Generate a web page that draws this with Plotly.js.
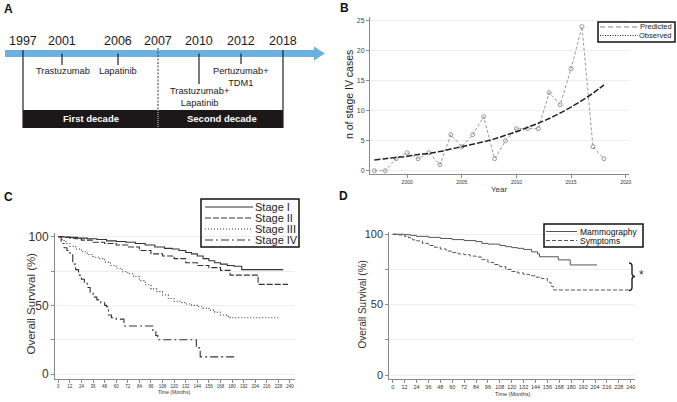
<!DOCTYPE html>
<html><head><meta charset="utf-8">
<script src="https://cdn.plot.ly/plotly-3.0.1.min.js"></script>
<style>html,body{margin:0;padding:0;background:#fff}#chart{width:677px;height:402px}</style>
</head><body><div id="chart"></div>
<script>
// ---------------- DATA ----------------
// Panel A – timeline
const timelineYears = ['1997', '2001', '2006', '2007', '2010', '2012', '2018'];
const therapyYears = ['2001', '2006', '2010', '2012'];
const therapyNames = ['Trastuzumab', 'Lapatinib', 'Trastuzumab+<br>Lapatinib', 'Pertuzumab+<br>TDM1'];
const decadeLabels = ['First decade', 'Second decade'];

// Panel B – stage IV cases per year
const years = [1997, 1998, 1999, 2000, 2001, 2002, 2003, 2004, 2005, 2006, 2007, 2008, 2009, 2010, 2011, 2012, 2013, 2014, 2015, 2016, 2017, 2018];
const observedCases = [0, 0, 2, 3, 2, 3, 1, 6, 4, 6, 9, 2, 5, 7, 7, 7, 13, 11, 17, 24, 4, 2];
const predictedCases = [1.8, 2.0, 2.2, 2.4, 2.7, 2.9, 3.2, 3.6, 4.0, 4.4, 4.8, 5.3, 5.9, 6.5, 7.2, 7.9, 8.7, 9.6, 10.6, 11.7, 12.9, 14.3];
const legendB = ['Predicted', 'Observed'];

// Panel C – overall survival by stage (Kaplan–Meier, months / %)
const stageNames = ['Stage I', 'Stage II', 'Stage III', 'Stage IV'];
const stage1Time = [0, 6, 12, 20, 30, 40, 50, 60, 70, 80, 90, 100, 110, 118, 125, 132, 138, 144, 150, 156, 162, 168, 175, 182, 190, 233];
const stage1Surv = [100, 99.8, 99.5, 99, 98.5, 98, 97, 96.5, 96, 95, 94, 92.5, 91.5, 91, 90, 88.5, 87.5, 86, 84, 82.5, 81, 80, 79, 78.5, 76, 76];
const stage2Time = [0, 6, 12, 18, 24, 36, 48, 60, 72, 84, 96, 108, 120, 132, 144, 156, 168, 178, 207, 238];
const stage2Surv = [100, 99.5, 99, 98.5, 97.5, 96, 95, 94, 92.5, 90, 87.5, 86, 84, 81, 79, 77.5, 75.5, 72, 65.3, 65.3];
const stage3Time = [0, 3, 6, 9, 12, 18, 24, 30, 36, 42, 48, 54, 60, 66, 72, 78, 84, 90, 96, 102, 108, 114, 120, 126, 132, 138, 144, 150, 156, 162, 168, 174, 178, 230];
const stage3Surv = [100, 98, 96.5, 95, 93, 91, 89, 87, 85, 84, 81.5, 79, 77, 74.5, 73, 71, 68, 65, 62, 60, 57.5, 55, 53, 52, 51, 50, 49, 48, 46.5, 45, 43, 42, 41, 41];
const stage4Time = [0, 3, 6, 9, 12, 15, 18, 21, 24, 27, 30, 33, 36, 40, 44, 48, 50, 52, 55, 60, 68, 98, 101, 103, 143, 145, 147, 183];
const stage4Surv = [100, 95, 92, 90, 88, 80, 76, 72, 69, 66, 63, 59, 56, 54, 52, 50, 49, 43, 41, 40, 35, 31, 28, 25, 19, 19, 12.5, 12.5];

// Panel D – overall survival by detection mode
const detectNames = ['Mammography', 'Symptoms'];
const mammoTime = [0, 6, 12, 18, 24, 36, 48, 60, 72, 84, 90, 96, 108, 114, 120, 126, 132, 140, 146, 148, 167, 179, 206];
const mammoSurv = [100, 100, 99.7, 99.2, 98.5, 97.8, 97, 96.2, 95.5, 94.8, 93.5, 93, 92, 91.2, 90.5, 90, 89.2, 87.5, 86, 84, 81.8, 78.2, 78.2];
const sympTime = [0, 6, 12, 16, 20, 24, 30, 36, 42, 48, 54, 60, 66, 72, 78, 84, 90, 96, 102, 108, 114, 120, 126, 132, 138, 144, 150, 156, 158, 160, 162, 239];
const sympSurv = [100, 99.5, 98.5, 97.5, 96, 95.3, 93.5, 92, 90.8, 89.5, 88, 87, 86, 85.5, 84.5, 83.8, 82, 80, 78.5, 77, 75, 73.5, 72.5, 71.5, 70.5, 69.5, 68.5, 66.8, 65.5, 63, 60.4, 60.4];

const monthTicks = [0, 12, 24, 36, 48, 60, 72, 84, 96, 108, 120, 132, 144, 156, 168, 180, 192, 204, 216, 228, 240];

// ---------------- LAYOUT HELPERS ----------------
const W = 677, H = 402;
const fx = p => p / W, fy = p => 1 - p / H;
const FONT = '"Liberation Sans", Arial, sans-serif';
const shapes = [], annotations = [];
function line(x0, y0, x1, y1, color, width, dash) {
  shapes.push({type: 'line', xref: 'paper', yref: 'paper', x0: fx(x0), y0: fy(y0), x1: fx(x1), y1: fy(y1),
    line: {color: color, width: width, dash: dash || 'solid'}});
}
function rect(x0, y0, x1, y1, fill, lc, lw) {
  shapes.push({type: 'rect', xref: 'paper', yref: 'paper', x0: fx(x0), y0: fy(y0), x1: fx(x1), y1: fy(y1),
    fillcolor: fill, line: {color: lc || fill, width: lw || 0}});
}
function text(x, y, t, size, color, extra) {
  annotations.push(Object.assign({xref: 'paper', yref: 'paper', x: fx(x), y: fy(y), text: t, showarrow: false,
    xanchor: 'center', yanchor: 'middle', borderpad: 0,
    font: {family: FONT, size: size, color: color || '#222'}}, extra || {}));
}
function P(x, y) { return fx(x) + ' ' + fy(y); }

// Panel A timeline geometry (pixel positions along the arrow)
const yearPx = {'1997': 23, '2001': 62, '2006': 118, '2007': 158, '2010': 199, '2012': 241, '2018': 283};
const therapyTickEnd = {'2001': 65, '2006': 65, '2010': 84, '2012': 64};
const therapyLabelY = {'2001': 71, '2006': 71, '2010': 97.5, '2012': 76.5};

// arrow
rect(5, 50, 315, 57, '#6cb0e0');
shapes.push({type: 'path', xref: 'paper', yref: 'paper',
  path: `M ${P(314, 46.5)} L ${P(325, 53.5)} L ${P(314, 60.5)} Z`,
  fillcolor: '#6cb0e0', line: {width: 0}});
// decade box
rect(yearPx['1997'], 110, yearPx['2018'], 128, '#1c1718');
text((yearPx['1997'] + yearPx['2007']) / 2, 118.5, '<b>' + decadeLabels[0] + '</b>', 9.5, '#fff');
text((yearPx['2007'] + yearPx['2018']) / 2 + 1, 118.5, '<b>' + decadeLabels[1] + '</b>', 9.5, '#fff');
// year labels
timelineYears.forEach(y => text(yearPx[y], 41, y, 12.5, '#1a1a1a'));
// boundary lines
line(yearPx['1997'], 50, yearPx['1997'], 128, '#222', 1.2);
line(yearPx['2018'], 50, yearPx['2018'], 128, '#222', 1.2);
line(yearPx['2007'], 48, yearPx['2007'], 110, '#333', 1, '2px,1.5px');
line(yearPx['2007'], 110, yearPx['2007'], 128, '#ddd', 1, '1px,1px');
therapyYears.forEach((y, i) => {
  line(yearPx[y], 53.5, yearPx[y], therapyTickEnd[y], '#222', 1.2);
  text(yearPx[y] + (y === '2001' ? 1 : 0), therapyLabelY[y], therapyNames[i], 9.3, '#222');
});

// panel letters
text(8, 9, '<b>A</b>', 12, '#111');
text(344, 8, '<b>B</b>', 12, '#111');
text(8, 197, '<b>C</b>', 12, '#111');
text(343, 196, '<b>D</b>', 12, '#111');

// ---------- Panel B legend & titles ----------
rect(598, 22, 675, 42, 'rgba(0,0,0,0)', '#111', 1.5);
line(600, 27, 638, 27, '#aaa', 1.5, '5px,3px');
line(600, 35.5, 638, 35.5, '#222', 1, '1px,1.5px');
text(673, 27, legendB[0], 7.5, '#222', {xanchor: 'right'});
text(673, 35.5, legendB[1], 7.5, '#222', {xanchor: 'right'});
text(349, 95, 'n of stage IV cases', 10.5, '#222', {textangle: -90});
text(499, 190, 'Year', 8, '#333');

// ---------- Panel C legend & titles ----------
const dashC = ['solid', '6px,2px', '1px,2px', '8px,3px,2px,3px'];
const legCY = [207, 218, 229, 240];
rect(201, 199, 299, 247, 'rgba(0,0,0,0)', '#111', 1.5);
stageNames.forEach((n, i) => {
  line(205, legCY[i], 253, legCY[i], '#333', 1, dashC[i]);
  text(254, legCY[i], n, 11, '#222', {xanchor: 'left'});
});
text(30.5, 304, 'Overall Survival (%)', 11.5, '#333', {textangle: -90});
text(174, 391.5, 'Time (Months)', 5, '#333');

// ---------- Panel D legend & titles ----------
const dashD = ['solid', '4px,2px'];
const legDY = [231.5, 240.5];
rect(544, 224, 643, 247, 'rgba(0,0,0,0)', '#111', 1.5);
detectNames.forEach((n, i) => {
  line(546, legDY[i], 577, legDY[i], '#555', 1, dashD[i]);
  text(579, legDY[i], n, 8.5, '#111', {xanchor: 'left'});
});
text(361.5, 305, 'Overall Survival (%)', 10, '#333', {textangle: -90});
text(512, 394, 'Time (Months)', 5.5, '#333');
// significance brace
shapes.push({type: 'path', xref: 'paper', yref: 'paper',
  path: `M ${P(629, 263)} Q ${P(632, 263)} ${P(632, 266)} L ${P(632, 273.5)} Q ${P(632, 276.5)} ${P(635, 276.5)}` +
        ` Q ${P(632, 276.5)} ${P(632, 279.5)} L ${P(632, 287.5)} Q ${P(632, 290.5)} ${P(629, 290.5)}`,
  line: {color: '#222', width: 1.4}});
text(641, 275, '*', 12, '#333');

// ---------------- TRACES ----------------
const traces = [
  {x: years, y: observedCases, xaxis: 'x', yaxis: 'y', type: 'scatter', mode: 'lines+markers',
   line: {color: '#9a9a9a', width: 1, dash: '3px,2px'},
   marker: {symbol: 'circle-open', size: 4, color: '#999', line: {width: 1}}},
  {x: years, y: predictedCases, xaxis: 'x', yaxis: 'y', type: 'scatter', mode: 'lines',
   line: {color: '#222', width: 1.5, dash: '6px,2px', shape: 'spline'}},
  {x: stage1Time, y: stage1Surv, xaxis: 'x2', yaxis: 'y2', mode: 'lines', line: {color: '#333', width: 1.1, shape: 'hv', dash: dashC[0]}},
  {x: stage2Time, y: stage2Surv, xaxis: 'x2', yaxis: 'y2', mode: 'lines', line: {color: '#333', width: 1.1, shape: 'hv', dash: dashC[1]}},
  {x: stage3Time, y: stage3Surv, xaxis: 'x2', yaxis: 'y2', mode: 'lines', line: {color: '#333', width: 1.1, shape: 'hv', dash: dashC[2]}},
  {x: stage4Time, y: stage4Surv, xaxis: 'x2', yaxis: 'y2', mode: 'lines', line: {color: '#333', width: 1.1, shape: 'hv', dash: dashC[3]}},
  {x: mammoTime, y: mammoSurv, xaxis: 'x3', yaxis: 'y3', mode: 'lines', line: {color: '#555', width: 1, shape: 'hv', dash: dashD[0]}},
  {x: sympTime, y: sympSurv, xaxis: 'x3', yaxis: 'y3', mode: 'lines', line: {color: '#555', width: 1, shape: 'hv', dash: dashD[1]}}
];

const axBase = {showline: true, linecolor: '#8a8a8a', linewidth: 1, ticks: 'outside', tickcolor: '#8a8a8a',
  ticklen: 3, zeroline: false, tickangle: 0, fixedrange: true};

const layout = {
  width: W, height: H, margin: {l: 0, r: 0, t: 0, b: 0}, showlegend: false,
  paper_bgcolor: '#fff', plot_bgcolor: '#fff', font: {family: FONT},
  xaxis: Object.assign({}, axBase, {anchor: 'y', domain: [fx(370), fx(629)], range: [1996.6, 2020.3],
    tickvals: [2000, 2005, 2010, 2015, 2020], tickfont: {size: 5, color: '#333'}, showgrid: false}),
  yaxis: Object.assign({}, axBase, {anchor: 'x', domain: [fy(174), fy(17)], range: [-0.55, 25.6],
    tickvals: [0, 5, 10, 15, 20, 25], tickfont: {size: 7, color: '#444'}, showgrid: true, gridcolor: '#eeeeee'}),
  xaxis2: Object.assign({}, axBase, {anchor: 'y2', domain: [fx(55), fx(295)], range: [-3.4, 245.2],
    tickvals: monthTicks, tickfont: {size: 4.5, color: '#333'}, showgrid: false, ticklen: 2.5}),
  yaxis2: Object.assign({}, axBase, {anchor: 'x2', domain: [fy(379), fy(233)], range: [-3.64, 102.7],
    tickvals: [0, 25, 50, 75, 100], ticktext: ['0', '', '50', '', '100'], tickfont: {size: 12, color: '#333'},
    showgrid: true, gridcolor: '#eeeeee'}),
  xaxis3: Object.assign({}, axBase, {anchor: 'y3', domain: [fx(389.3), fx(635)], range: [-3.43, 244.3],
    tickvals: monthTicks, tickfont: {size: 5.5, color: '#333'}, showgrid: false, ticklen: 2.5}),
  yaxis3: Object.assign({}, axBase, {anchor: 'x3', domain: [fy(379), fy(232)], range: [-2.84, 101.6],
    tickvals: [0, 25, 50, 75, 100], ticktext: ['0', '', '50', '', '100'], tickfont: {size: 11, color: '#333'},
    showgrid: true, gridcolor: '#eeeeee'}),
  shapes: shapes,
  annotations: annotations
};

Plotly.newPlot('chart', traces, layout, {displayModeBar: false, staticPlot: true});
</script>
</body></html>
